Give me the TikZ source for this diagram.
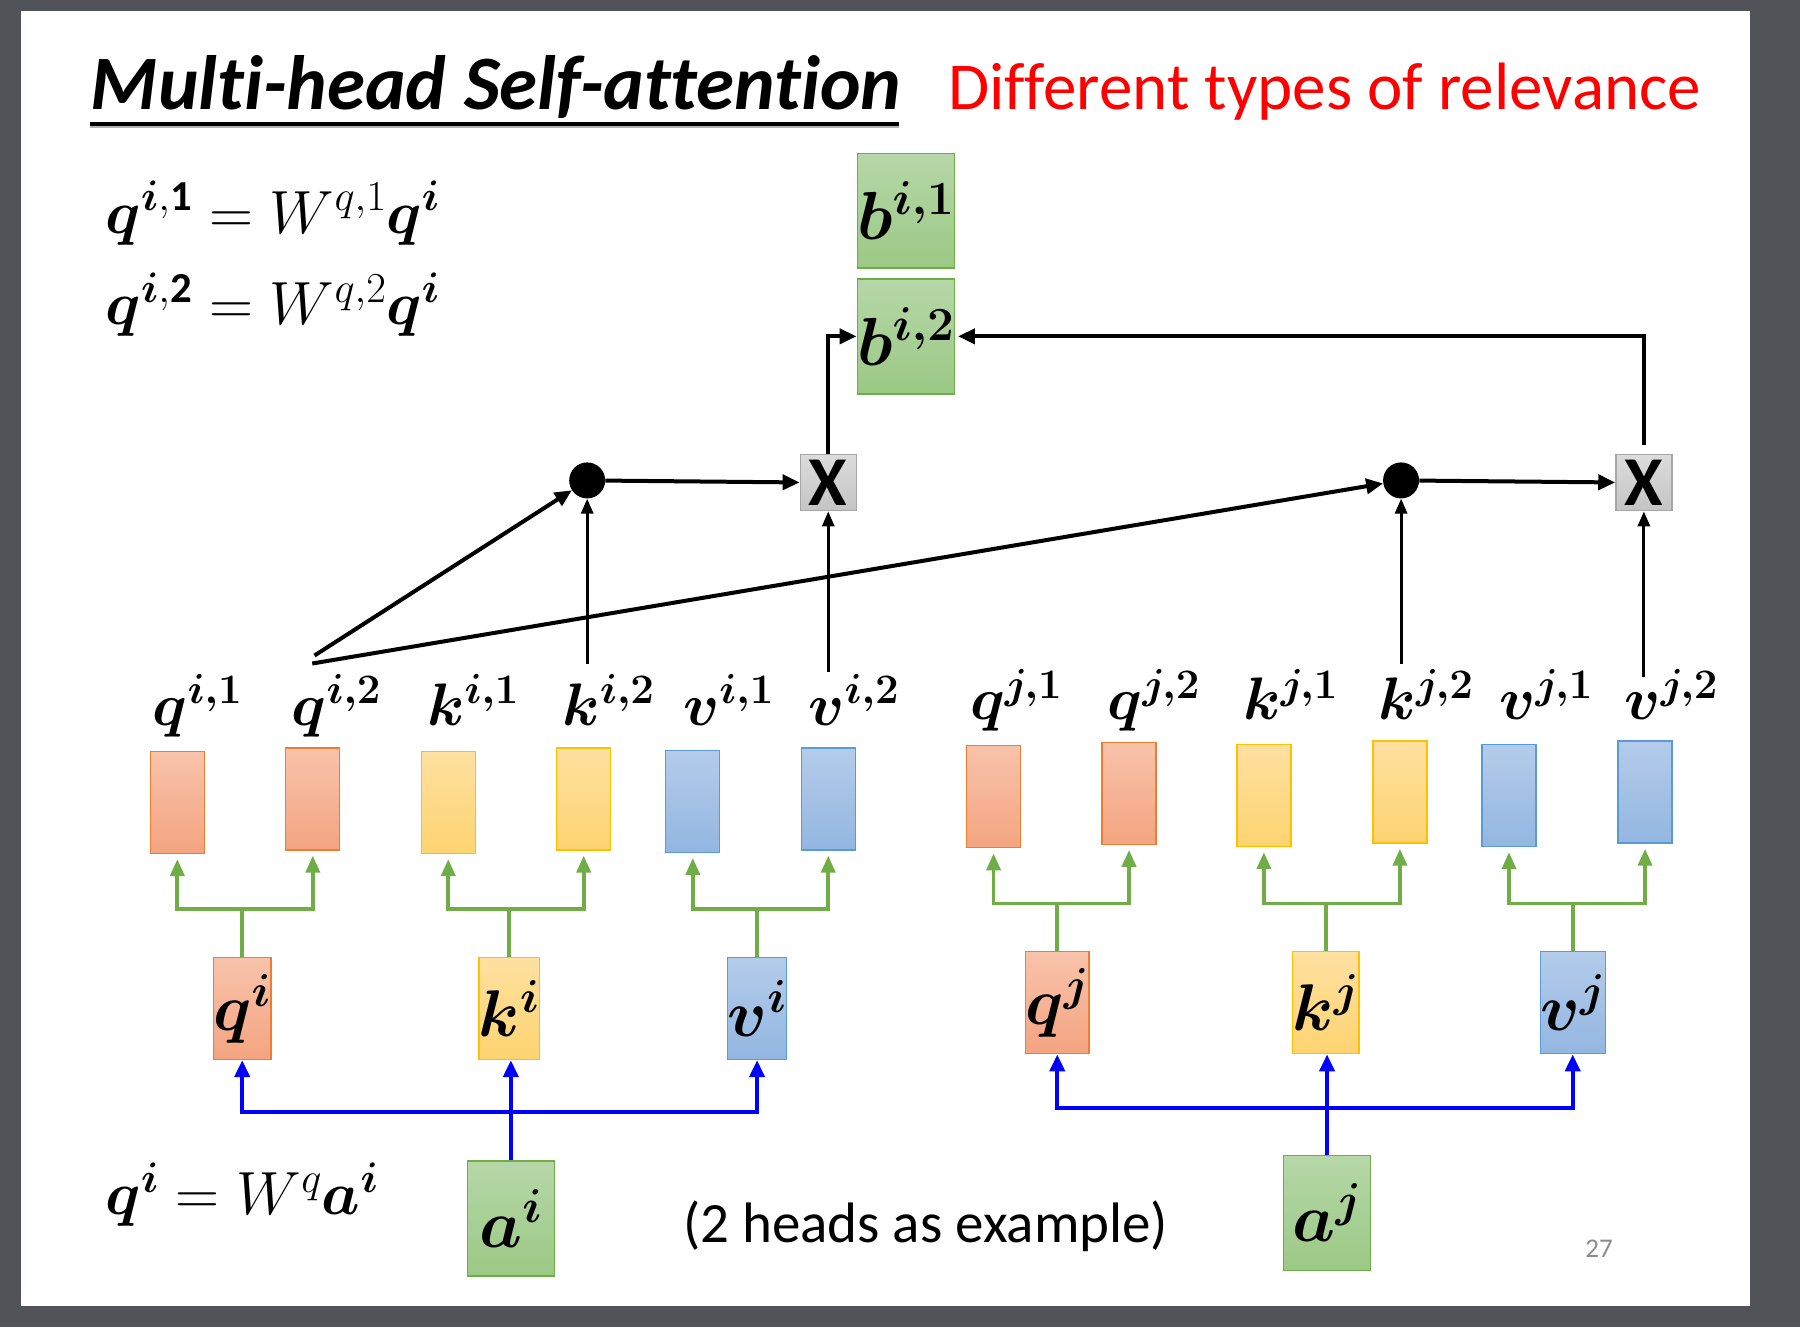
\RequirePackage{fix-cm}
\documentclass[tikz,border=0pt]{standalone}
\usepackage{amsmath}
\usepackage{bm}
\usepackage{fontspec}
\setmainfont{Carlito}[Ligatures={NoCommon}]
\usetikzlibrary{arrows.meta}
\definecolor{bgdark}{HTML}{505459}
\definecolor{qtop}{HTML}{F8C3AB}
\definecolor{qbot}{HTML}{F4A480}
\definecolor{qbd}{HTML}{ED7D31}
\definecolor{ktop}{HTML}{FEE0A0}
\definecolor{kbot}{HTML}{FED471}
\definecolor{kbd}{HTML}{FFC000}
\definecolor{vtop}{HTML}{B4CCEA}
\definecolor{vbot}{HTML}{93B6E1}
\definecolor{vbd}{HTML}{5B9BD5}
\definecolor{gtop}{HTML}{B6D7A8}
\definecolor{gbot}{HTML}{9BC985}
\definecolor{gbd}{HTML}{70AD47}
\definecolor{xtop}{HTML}{DCDCDC}
\definecolor{xbot}{HTML}{C4C4C4}
\definecolor{xbd}{HTML}{A6A6A6}
\definecolor{garrow}{HTML}{70AD47}
\definecolor{pagegray}{HTML}{8C8C8C}
\begin{document}
\begin{tikzpicture}[x=1.148pt,y=-1.148pt,
  box/.style={draw, line width=1.3pt, inner sep=0pt, minimum width=54pt, minimum height=102pt},
  qb/.style={box, draw=qbd, top color=qtop, bottom color=qbot},
  kb/.style={box, draw=kbd, top color=ktop, bottom color=kbot},
  vb/.style={box, draw=vbd, top color=vtop, bottom color=vbot},
  gb/.style={box, draw=gbd, top color=gtop, bottom color=gbot, minimum width=87pt, minimum height=115pt, font=\fontsize{68}{68}\selectfont},
  mid/.style={minimum width=55pt, font=\fontsize{66}{66}\selectfont},
  lab/.style={anchor=base west, inner sep=0pt, font=\fontsize{60}{60}\selectfont},
  eq/.style={anchor=base west, inner sep=0pt, font=\fontsize{61}{61}\selectfont},
  dotn/.style={circle, fill=black, inner sep=0pt, minimum size=36pt},
  xbox/.style={draw=xbd, line width=1.3pt, top color=xtop, bottom color=xbot, minimum size=56pt, inner sep=0pt, font=\fontsize{70}{70}\selectfont\bfseries},
  blk/.style={line width=4pt, -{Triangle[length=17pt,width=15pt]}},
  blkthin/.style={line width=3pt, -{Triangle[length=15pt,width=12pt]}},
  garr/.style={draw=garrow, line width=3.8pt, -{Triangle[length=17pt,width=14pt]}, shorten >=5pt},
  barr/.style={draw=blue, line width=4pt, -{Triangle[length=17pt,width=15pt]}},
]
\useasboundingbox (0,0) rectangle (1568,1156);
\fill[bgdark] (0,0) rectangle (1568,1156);
\fill[white] (18,10) rectangle (1524,1138);

% title
\node[anchor=base west, inner sep=0pt, font=\fontsize{77}{80}\selectfont\bfseries\itshape] (title) at (79,95) {Multi-head Self-attention};
\draw[line width=2pt, gray!60] (78,110.5) -- (783,110.5);
\draw[line width=3.4pt] (78,108) -- (783,108);
\node[anchor=base west, inner sep=0pt, text=red, font=\fontsize{67}{70}\selectfont] (sub) at (826,95) {Different types of relevance};

% equations
\node[eq] (eq1) at (92,203) {$\bm{q}^{\bm{i},\mathbf{1}} = W^{q,1}\bm{q}^{\bm{i}}$};
\node[eq] (eq2) at (92,283) {$\bm{q}^{\bm{i},\mathbf{2}} = W^{q,2}\bm{q}^{\bm{i}}$};
\node[eq] (eq3) at (92,1058) {$\bm{q}^{\bm{i}} = W^{q}\bm{a}^{\bm{i}}$};

% b boxes
\node[gb] (b1) at (789,183.5) {$\bm{b^{i,1}}$};
\node[gb] (b2) at (789,293) {$\bm{b^{i,2}}$};

% dots and multipliers
\node[dotn] (dot1) at (511.5,418.5) {};
\node[dotn] (dot2) at (1220.5,418.5) {};
\node[xbox] (x1) at (721.5,420.5) {X};
\node[xbox] (x2) at (1432,420.5) {X};

% row boxes
\node[qb, anchor=north] (qi1) at (154.5,654) {};
\node[qb, anchor=north] (qi2) at (272.5,651) {};
\node[kb, anchor=north] (ki1) at (390.5,654) {};
\node[kb, anchor=north] (ki2) at (508.5,651) {};
\node[vb, anchor=north] (vi1) at (603.5,653) {};
\node[vb, anchor=north] (vi2) at (721.5,651) {};
\node[qb, anchor=north] (qj1) at (865.5,649) {};
\node[qb, anchor=north] (qj2) at (983.5,646) {};
\node[kb, anchor=north] (kj1) at (1101,648) {};
\node[kb, anchor=north] (kj2) at (1219.5,645) {};
\node[vb, anchor=north] (vj1) at (1314.5,648) {};
\node[vb, anchor=north] (vj2) at (1433,645) {};

% row labels
\node[lab] (qi1l) at (133,632) {$\bm{q^{i,1}}$};
\node[lab] (qi2l) at (254,632) {$\bm{q^{i,2}}$};
\node[lab] (ki1l) at (372,632) {$\bm{k^{i,1}}$};
\node[lab] (ki2l) at (490,632) {$\bm{k^{i,2}}$};
\node[lab] (vi1l) at (595,632) {$\bm{v^{i,1}}$};
\node[lab] (vi2l) at (704,632) {$\bm{v^{i,2}}$};
\node[lab] (qj1l) at (845,627) {$\bm{q^{j,1}}$};
\node[lab] (qj2l) at (965,627) {$\bm{q^{j,2}}$};
\node[lab] (kj1l) at (1083,627) {$\bm{k^{j,1}}$};
\node[lab] (kj2l) at (1201,627) {$\bm{k^{j,2}}$};
\node[lab] (vj1l) at (1306,627) {$\bm{v^{j,1}}$};
\node[lab] (vj2l) at (1415,627) {$\bm{v^{j,2}}$};

% middle boxes
\node[qb, mid] (qi) at (211,878.5) {$\bm{q^{i}}$};
\node[kb, mid] (ki) at (443.5,878.5) {$\bm{k^{i}}$};
\node[vb, mid] (vi) at (659.5,878.5) {$\bm{v^{i}}$};
\node[qb, mid] (qj) at (921,873.5) {$\bm{q^{j}}$};
\node[kb, mid] (kj) at (1155,873.5) {$\bm{k^{j}}$};
\node[vb, mid] (vj) at (1370,873.5) {$\bm{v^{j}}$};

% a boxes
\node[gb] (ai) at (445,1061.5) {$\bm{a^{i}}$};
\node[gb] (aj) at (1156,1056.5) {$\bm{a^{j}}$};

% texts
\node[anchor=base west, inner sep=0pt, font=\fontsize{57}{60}\selectfont] (note) at (595,1082) {(2 heads as example)};
\node[text=pagegray, font=\fontsize{27}{28}\selectfont] (pnum) at (1393,1088) {27};

% green trees
\coordinate (gi) at (0,792);
\coordinate (gj) at (0,787);
\draw[garr] (qi.north) |- (qi1.south |- gi) -- (qi1.south);
\draw[garr] (qi.north |- gi) -| (qi2.south);
\draw[garr] (ki.north) |- (ki1.south |- gi) -- (ki1.south);
\draw[garr] (ki.north |- gi) -| (ki2.south);
\draw[garr] (vi.north) |- (vi1.south |- gi) -- (vi1.south);
\draw[garr] (vi.north |- gi) -| (vi2.south);
\draw[garr] (qj.north) |- (qj1.south |- gj) -- (qj1.south);
\draw[garr] (qj.north |- gj) -| (qj2.south);
\draw[garr] (kj.north) |- (kj1.south |- gj) -- (kj1.south);
\draw[garr] (kj.north |- gj) -| (kj2.south);
\draw[garr] (vj.north) |- (vj1.south |- gj) -- (vj1.south);
\draw[garr] (vj.north |- gj) -| (vj2.south);

% blue trees
\coordinate (bi) at (0,969);
\coordinate (bj) at (0,965);
\draw[barr] (ai.north) -- (ai.north |- ki.south);
\draw[barr] (ai.north |- bi) -| (qi.south);
\draw[barr] (ai.north |- bi) -| (vi.south);
\draw[barr] (aj.north) -- (aj.north |- kj.south);
\draw[barr] (aj.north |- bj) -| (qj.south);
\draw[barr] (aj.north |- bj) -| (vj.south);

% black connectors
\coordinate (qa) at (274,571);
\coordinate (qb) at (272,578);
\coordinate (ka) at (511.5,578);
\coordinate (va) at (721.5,585);
\coordinate (kb) at (1220.5,578);
\coordinate (vb) at (1432,590);
\draw[blk] (qa) -- (dot1);
\draw[blk] (qb) -- (dot2);
\draw[blkthin] (ka) -- (dot1);
\draw[blkthin] (va) -- (x1);
\draw[blk] (dot1) -- (x1);
\draw[blk] (x1.north) |- (b2.west);
\draw[blkthin] (kb) -- (dot2);
\draw[blk] (dot2) -- (x2);
\draw[blkthin] (vb) -- (x2);
\draw[blk, shorten >=3pt] ([yshift=9pt]x2.north) |- (b2.east);
\end{tikzpicture}
\end{document}
